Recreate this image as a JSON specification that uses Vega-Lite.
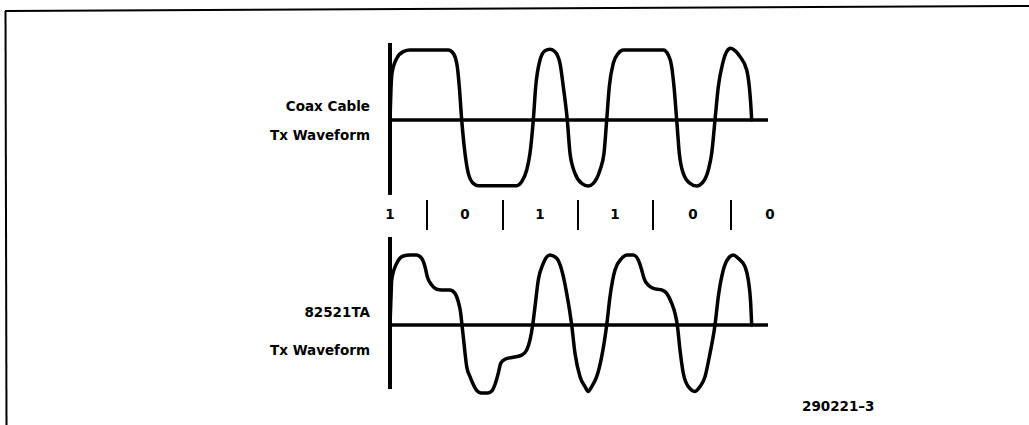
{
  "$schema": "https://vega.github.io/schema/vega-lite/v6.json",
  "width": 1024,
  "height": 417,
  "autosize": {"type": "none"},
  "padding": {"left": 5, "top": 8, "right": 0, "bottom": 0},
  "background": "white",
  "config": {
    "view": {"stroke": null},
    "axis": {"disable": true},
    "text": {"font": "DejaVu Sans", "fontWeight": "bold", "fontSize": 13.5, "color": "black"},
    "rule": {"color": "black"},
    "line": {"color": "black"}
  },
  "datasets": {
    "coax": [
      {"t":0,"amp":0},{"t":1,"amp":0.45},{"t":2,"amp":0.67},{"t":6.7,"amp":0.88},{"t":13.3,"amp":0.976},{"t":20,"amp":1.0},{"t":58.3,"amp":1.0},{"t":63.3,"amp":0.952},{"t":67.3,"amp":0.762},{"t":69.3,"amp":0.476},{"t":71.7,"amp":0},{"t":75,"amp":-0.476},{"t":78.3,"amp":-0.762},{"t":83.3,"amp":-0.905},{"t":88.3,"amp":-0.938},{"t":126.7,"amp":-0.938},{"t":131.7,"amp":-0.881},{"t":136.7,"amp":-0.714},{"t":140,"amp":-0.476},{"t":143.3,"amp":0},{"t":145.7,"amp":0.476},{"t":150,"amp":0.857},{"t":155,"amp":0.99},{"t":160,"amp":1.01},{"t":165,"amp":0.976},{"t":170,"amp":0.81},{"t":173.3,"amp":0.476},{"t":177.3,"amp":0},{"t":180,"amp":-0.476},{"t":185,"amp":-0.762},{"t":191.7,"amp":-0.905},{"t":198.3,"amp":-0.943},{"t":203.3,"amp":-0.905},{"t":210,"amp":-0.714},{"t":214,"amp":-0.476},{"t":216.7,"amp":0},{"t":219.3,"amp":0.476},{"t":223.3,"amp":0.81},{"t":228.3,"amp":0.952},{"t":233.3,"amp":1.0},{"t":273.3,"amp":1.0},{"t":278.3,"amp":0.929},{"t":281.7,"amp":0.762},{"t":284,"amp":0.476},{"t":286.7,"amp":0},{"t":289.3,"amp":-0.476},{"t":293.3,"amp":-0.762},{"t":300,"amp":-0.905},{"t":306.7,"amp":-0.943},{"t":313.3,"amp":-0.881},{"t":318.3,"amp":-0.714},{"t":321.7,"amp":-0.476},{"t":325,"amp":0},{"t":328.3,"amp":0.476},{"t":332.7,"amp":0.81},{"t":336.7,"amp":0.976},{"t":340.7,"amp":1.024},{"t":345,"amp":0.99},{"t":350,"amp":0.905},{"t":356.7,"amp":0.714},{"t":359.3,"amp":0.476},{"t":360.7,"amp":0.238},{"t":361.7,"amp":0}
    ],
    "ta": [
      {"t":0,"amp":0},{"t":1,"amp":0.4},{"t":1.7,"amp":0.643},{"t":6.7,"amp":0.881},{"t":13.3,"amp":0.986},{"t":20,"amp":1.0},{"t":26.7,"amp":1.0},{"t":31.7,"amp":0.952},{"t":35,"amp":0.833},{"t":37.3,"amp":0.69},{"t":41.7,"amp":0.571},{"t":46.7,"amp":0.51},{"t":51.7,"amp":0.5},{"t":60,"amp":0.5},{"t":65,"amp":0.452},{"t":68.3,"amp":0.333},{"t":70.7,"amp":0.167},{"t":72,"amp":0},{"t":74,"amp":-0.262},{"t":76.7,"amp":-0.595},{"t":80,"amp":-0.738},{"t":83.3,"amp":-0.85},{"t":87,"amp":-0.94},{"t":91,"amp":-0.97},{"t":98,"amp":-0.97},{"t":102,"amp":-0.94},{"t":105,"amp":-0.85},{"t":108.3,"amp":-0.69},{"t":110.7,"amp":-0.548},{"t":115,"amp":-0.49},{"t":123.3,"amp":-0.46},{"t":131.7,"amp":-0.43},{"t":136.7,"amp":-0.357},{"t":140,"amp":-0.214},{"t":142.7,"amp":0},{"t":145,"amp":0.262},{"t":148.3,"amp":0.643},{"t":153.3,"amp":0.881},{"t":160,"amp":1.0},{"t":166.7,"amp":0.952},{"t":171.7,"amp":0.786},{"t":176.7,"amp":0.452},{"t":181.7,"amp":0},{"t":185,"amp":-0.405},{"t":190,"amp":-0.738},{"t":195,"amp":-0.88},{"t":198.3,"amp":-0.95},{"t":201.7,"amp":-0.88},{"t":206.7,"amp":-0.738},{"t":211.7,"amp":-0.452},{"t":216.7,"amp":0},{"t":220,"amp":0.405},{"t":225,"amp":0.786},{"t":231.7,"amp":0.952},{"t":236.7,"amp":1.0},{"t":243.3,"amp":1.0},{"t":248.3,"amp":0.929},{"t":251.7,"amp":0.786},{"t":254,"amp":0.667},{"t":258.3,"amp":0.571},{"t":263.3,"amp":0.524},{"t":271.7,"amp":0.5},{"t":276.7,"amp":0.452},{"t":281.7,"amp":0.31},{"t":285,"amp":0.167},{"t":287.3,"amp":0},{"t":290,"amp":-0.357},{"t":293.3,"amp":-0.69},{"t":298.3,"amp":-0.88},{"t":305,"amp":-0.95},{"t":310,"amp":-0.88},{"t":315,"amp":-0.738},{"t":320,"amp":-0.405},{"t":325,"amp":0},{"t":328.3,"amp":0.405},{"t":333.3,"amp":0.786},{"t":338.3,"amp":0.952},{"t":343.3,"amp":1.0},{"t":348.3,"amp":0.952},{"t":355,"amp":0.833},{"t":358.3,"amp":0.643},{"t":360.7,"amp":0.31},{"t":361.7,"amp":0}
    ],
    "bits": [
      {"t":0,"bit":"1"},{"t":75,"bit":"0"},{"t":150,"bit":"1"},{"t":225,"bit":"1"},{"t":303,"bit":"0"},{"t":380,"bit":"0"}
    ],
    "seps": [{"t":37},{"t":113},{"t":188},{"t":263},{"t":341}],
    "topLabels": [
      {"t":-20,"amp":0.18,"label":"Coax Cable"},
      {"t":-20,"amp":-0.23,"label":"Tx Waveform"}
    ],
    "bottomLabels": [
      {"t":-20,"amp":0.17,"label":"82521TA"},
      {"t":-20,"amp":-0.37,"label":"Tx Waveform"}
    ],
    "figNo": [{"t":412,"amp":-1.171,"label":"290221–3"}]
  },
  "layer": [
    {
      "layer": [
        {
          "data": {"name": "coax"},
          "mark": {"type": "line", "interpolate": "monotone", "strokeWidth": 3.5, "strokeCap": "round", "strokeJoin": "round"},
          "encoding": {
            "x": {"field": "t", "type": "quantitative", "scale": {"domain": [-385, 639], "nice": false, "zero": false}},
            "y": {"field": "amp", "type": "quantitative", "scale": {"domain": [-4.357, 1.6], "nice": false, "zero": false}}
          }
        },
        {
          "data": {"values": [{}]},
          "mark": {"type": "rule", "strokeWidth": 3.5},
          "encoding": {"x": {"datum": 0}, "x2": {"datum": 378}, "y": {"datum": 0}}
        },
        {
          "data": {"values": [{}]},
          "mark": {"type": "rule", "strokeWidth": 4},
          "encoding": {"x": {"datum": 0}, "y": {"datum": -1.07}, "y2": {"datum": 1.1}}
        },
        {
          "data": {"name": "topLabels"},
          "mark": {"type": "text", "align": "right", "baseline": "middle"},
          "encoding": {"x": {"field": "t", "type": "quantitative"}, "y": {"field": "amp", "type": "quantitative"}, "text": {"field": "label"}}
        },
        {
          "data": {"name": "bits"},
          "mark": {"type": "text", "align": "center", "baseline": "middle"},
          "encoding": {"x": {"field": "t", "type": "quantitative"}, "y": {"datum": -1.35}, "text": {"field": "bit"}}
        },
        {
          "data": {"name": "seps"},
          "mark": {"type": "rule", "strokeWidth": 2},
          "encoding": {"x": {"field": "t", "type": "quantitative"}, "y": {"datum": -1.143}, "y2": {"datum": -1.571}}
        },
        {
          "data": {"values": [{}]},
          "mark": {"type": "rule", "strokeWidth": 2},
          "encoding": {"x": {"datum": -385}, "x2": {"datum": 639}, "y": {"datum": 1.557}, "y2": {"datum": 1.629}}
        },
        {
          "data": {"values": [{}]},
          "mark": {"type": "rule", "strokeWidth": 2},
          "encoding": {"x": {"datum": -384.5}, "x2": {"datum": -383.5}, "y": {"datum": 1.557}, "y2": {"datum": -4.357}}
        }
      ]
    },
    {
      "layer": [
        {
          "data": {"name": "ta"},
          "mark": {"type": "line", "interpolate": "monotone", "strokeWidth": 3.5, "strokeCap": "round", "strokeJoin": "round"},
          "encoding": {
            "x": {"field": "t", "type": "quantitative", "scale": {"domain": [-385, 639], "nice": false, "zero": false}},
            "y": {"field": "amp", "type": "quantitative", "scale": {"domain": [-1.4286, 4.5286], "nice": false, "zero": false}}
          }
        },
        {
          "data": {"values": [{}]},
          "mark": {"type": "rule", "strokeWidth": 3.5},
          "encoding": {"x": {"datum": 0}, "x2": {"datum": 378}, "y": {"datum": 0}}
        },
        {
          "data": {"values": [{}]},
          "mark": {"type": "rule", "strokeWidth": 4},
          "encoding": {"x": {"datum": 0}, "y": {"datum": -0.914}, "y2": {"datum": 1.257}}
        },
        {
          "data": {"name": "bottomLabels"},
          "mark": {"type": "text", "align": "right", "baseline": "middle"},
          "encoding": {"x": {"field": "t", "type": "quantitative"}, "y": {"field": "amp", "type": "quantitative"}, "text": {"field": "label"}}
        },
        {
          "data": {"name": "figNo"},
          "mark": {"type": "text", "align": "left", "baseline": "middle"},
          "encoding": {"x": {"field": "t", "type": "quantitative"}, "y": {"field": "amp", "type": "quantitative"}, "text": {"field": "label"}}
        }
      ]
    }
  ],
  "resolve": {"scale": {"y": "independent"}}
}
